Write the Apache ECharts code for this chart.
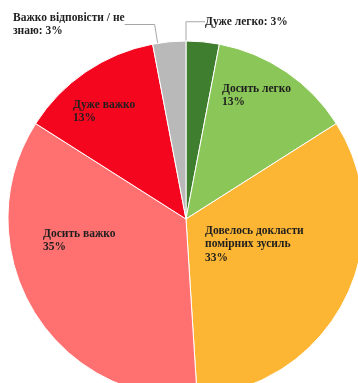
<!DOCTYPE html>
<html>
<head>
<meta charset="utf-8">
<script src="https://cdn.jsdelivr.net/npm/echarts@6/dist/echarts.min.js"></script>
<style>
  html, body { margin: 0; padding: 0; background: #fff; }
  #chart { width: 358px; height: 383px; }
</style>
</head>
<body>
<div id="chart"></div>
<script>
// категорії та значення (%)
const categories = ['Дуже легко', 'Досить легко', 'Довелось докласти помірних зусиль', 'Досить важко', 'Дуже важко', 'Важко відповісти / не знаю'];
const values = [3, 13, 33, 35, 13, 3];
// тексти підписів
const labelTexts = [
  'Дуже легко: 3%',
  'Досить легко\n13%',
  'Довелось докласти\nпомірних зусиль\n33%',
  'Досить важко\n35%',
  'Дуже важко\n13%',
  'Важко відповісти / не\nзнаю: 3%'
];
const colors = ['#3f7d2f', '#8bc658', '#fdb634', '#ff7070', '#f5061f', '#b9b9b9'];

// розташування підписів (лівий верхній кут)
const labelPos = [
  [205, 15], [222, 82], [205, 224], [43, 227], [73, 98], [13, 11]
];
// лінії-виноски для маленьких секторів
const leaderLines = {
  0: [[202, 42], [202, 36], [202, 31]],
  5: [[168, 41], [155, 31], [143, 22]]
};

const myChart = echarts.init(document.getElementById('chart'), null, { renderer: 'canvas' });

const option = {
  animation: false,
  series: [{
    type: 'pie',
    center: [186, 219],
    radius: 178,
    startAngle: 90,
    clockwise: true,
    data: categories.map((name, i) => ({
      name: name,
      value: values[i],
      itemStyle: { color: colors[i] },
      label: { formatter: labelTexts[i] },
      labelLine: { show: i === 0 || i === 5 }
    })),
    itemStyle: { borderColor: '#ffffff', borderWidth: 1 },
    label: {
      show: true,
      position: 'inside',
      fontFamily: 'Liberation Serif',
      fontWeight: 'bold',
      fontSize: 11.5,
      lineHeight: 13.5,
      color: '#1e1e1e',
      align: 'left'
    },
    labelLine: {
      lineStyle: { color: '#a6a6a6', width: 1 }
    },
    labelLayout: function (params) {
      const p = labelPos[params.dataIndex];
      const res = { x: p[0], y: p[1], align: 'left', verticalAlign: 'top' };
      if (leaderLines[params.dataIndex]) {
        res.labelLinePoints = leaderLines[params.dataIndex];
      }
      return res;
    }
  }]
};

myChart.setOption(option);
</script>
</body>
</html>
